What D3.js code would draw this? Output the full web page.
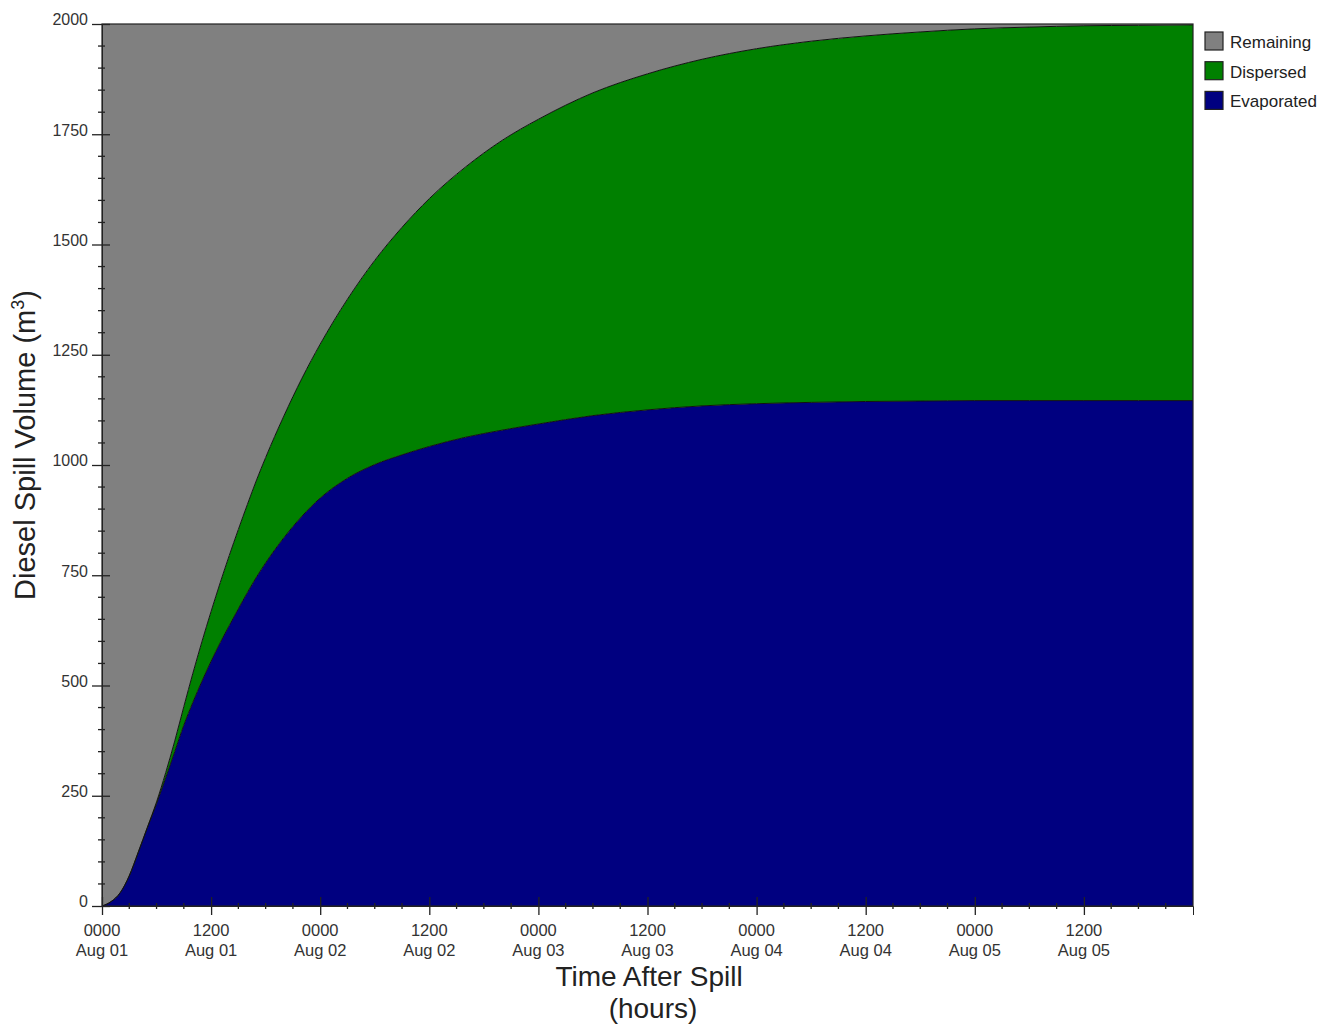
<!DOCTYPE html>
<html>
<head>
<meta charset="utf-8">
<script src="https://cdn.jsdelivr.net/npm/d3@7"></script>
<style>
  html, body { margin: 0; padding: 0; background: #fff; }
  svg { display: block; font-family: Arial, "Liberation Sans", sans-serif; }
</style>
</head>
<body>
<svg id="chart" width="1331" height="1025"></svg>
<script>
// ---- data ----
const hours = [0,1,2,3,4,5,6,7,8,9,10,11,12,13,14,15,16,17,18,20,22,24,27,30,33,36,40,44,48,54,60,66,72,78,84,90,96,102,108,114,120];
const evaporated = [0,10,30,68,122,178,232,290,350,410,462,510,555,597,636,674,711,746,778,835,884,925,970,1001,1023,1042,1063,1079,1093,1112,1125,1134,1139,1142,1144,1145,1146,1146,1146,1146,1146];
const dispersed  = [0,0,0,1,1,1,4,12,24,42,66,90,113,136,159,180,200,220,239,276,313,349,406,463,516,562,613,657,691,732,762,786,805,819,829,837,843,847,850,851,852];
const remaining  = [2000,1990,1970,1931,1877,1821,1764,1698,1626,1548,1472,1400,1332,1267,1205,1146,1089,1034,983,889,803,726,624,536,461,396,324,264,216,156,113,80,56,39,27,18,11,7,4,3,2];

const seriesNames = ["Remaining","Dispersed","Evaporated"];
const seriesColors = {Remaining:"#808080", Dispersed:"#008000", Evaporated:"#000080"};

const xTickHours = [0,12,24,36,48,60,72,84,96,108];
const xTickTimes = ["0000","1200","0000","1200","0000","1200","0000","1200","0000","1200"];
const xTickDates = ["Aug 01","Aug 01","Aug 02","Aug 02","Aug 03","Aug 03","Aug 04","Aug 04","Aug 05","Aug 05"];
const yTicks = [0,250,500,750,1000,1250,1500,1750,2000];

// ---- layout ----
const svg = d3.select("#chart");
const L = 102, R = 1193, T = 24, B = 906;
const x = d3.scaleLinear().domain([0,120]).range([L,R]);
const y = d3.scaleLinear().domain([0,2000]).range([B,T]);

const rows = hours.map((h,i) => ({h, Evaporated: evaporated[i], Dispersed: dispersed[i], Remaining: remaining[i]}));
const stack = d3.stack().keys(["Evaporated","Dispersed","Remaining"]);
const layers = stack(rows);

const area = d3.area()
  .x(d => x(d.data.h))
  .y0(d => y(d[0]))
  .y1(d => y(d[1]))
  .curve(d3.curveMonotoneX);
const topLine = d3.line()
  .x(d => x(d.data.h))
  .y(d => y(d[1]))
  .curve(d3.curveMonotoneX);

const g = svg.append("g");
g.selectAll("path.area").data(layers).join("path")
  .attr("class","area")
  .attr("d", area)
  .attr("fill", d => seriesColors[d.key]);
g.selectAll("path.edge").data(layers.slice(0,2)).join("path")
  .attr("class","edge")
  .attr("d", topLine)
  .attr("fill","none")
  .attr("stroke","#111")
  .attr("stroke-width",1);

// frame
svg.append("rect").attr("x",L).attr("y",T).attr("width",R-L).attr("height",B-T)
  .attr("fill","none").attr("stroke","#222").attr("stroke-width",1.2);

// ---- y axis ----
const yMinor = d3.range(0,2001,50).filter(v => v % 250 !== 0);
const yAx = svg.append("g").attr("transform",`translate(${L},0)`)
  .call(d3.axisLeft(y).tickValues(yTicks).tickSize(10).tickPadding(0).tickFormat(d3.format("d")));
yAx.select(".domain").attr("stroke","#222");
yAx.selectAll(".tick line").attr("x1",-10).attr("x2",8).attr("stroke","#222").attr("stroke-width",1.3);
yAx.selectAll(".tick text").attr("x",-14).attr("dy","0.06em")
  .attr("font-size",16).attr("fill","#333").attr("font-family","Arial, 'Liberation Sans', sans-serif");
svg.append("g").attr("transform",`translate(${L},0)`)
  .selectAll("line").data(yMinor).join("line")
  .attr("x1",-4).attr("x2",3).attr("y1",d=>y(d)).attr("y2",d=>y(d))
  .attr("stroke","#222").attr("stroke-width",1.3);

// ---- x axis ----
const xMinor = d3.range(0,121,3).filter(v => v % 12 !== 0);
const xAx = svg.append("g").attr("transform",`translate(0,${B})`)
  .call(d3.axisBottom(x).tickValues(xTickHours).tickSize(9).tickFormat(""));
xAx.select(".domain").attr("stroke","#222");
xAx.selectAll(".tick line").attr("y1",-9).attr("y2",9).attr("stroke","#222").attr("stroke-width",1.3);
xAx.selectAll(".tick text").remove();
svg.append("g").attr("transform",`translate(0,${B})`)
  .selectAll("line").data(xMinor).join("line")
  .attr("x1",d=>x(d)).attr("x2",d=>x(d)).attr("y1",-3).attr("y2",3)
  .attr("stroke","#222").attr("stroke-width",1.3);
const xl = svg.append("g").attr("font-size",16.5).attr("fill","#333").attr("text-anchor","middle");
xl.selectAll("text.t").data(xTickHours).join("text").attr("class","t")
  .attr("x",d=>x(d)).attr("y",936).text((d,i)=>xTickTimes[i]);
xl.selectAll("text.d").data(xTickHours).join("text").attr("class","d")
  .attr("x",d=>x(d)).attr("y",956).text((d,i)=>xTickDates[i]);

// ---- titles ----
const xt = svg.append("text").attr("text-anchor","middle")
  .attr("font-size",28).attr("fill","#222");
xt.append("tspan").attr("x",649).attr("y",986).text("Time After Spill");
xt.append("tspan").attr("x",653).attr("y",1018).text("(hours)");
const yt = svg.append("text").attr("transform","translate(35,445) rotate(-90)")
  .attr("text-anchor","middle").attr("font-size",29).attr("fill","#222");
yt.append("tspan").text("Diesel Spill Volume (m");
yt.append("tspan").attr("font-size",18).attr("dy",-11).text("3");
yt.append("tspan").attr("dy",11).text(")");

// ---- legend ----
const leg = svg.append("g").selectAll("g").data(seriesNames).join("g")
  .attr("transform",(d,i)=>`translate(1205,${32 + i*29.7})`);
leg.append("rect").attr("width",18).attr("height",18)
  .attr("fill",d=>seriesColors[d]).attr("stroke","#222").attr("stroke-width",1.2);
leg.append("text").attr("x",25).attr("y",16).attr("font-size",17).attr("fill","#222").text(d=>d);
</script>
</body>
</html>
